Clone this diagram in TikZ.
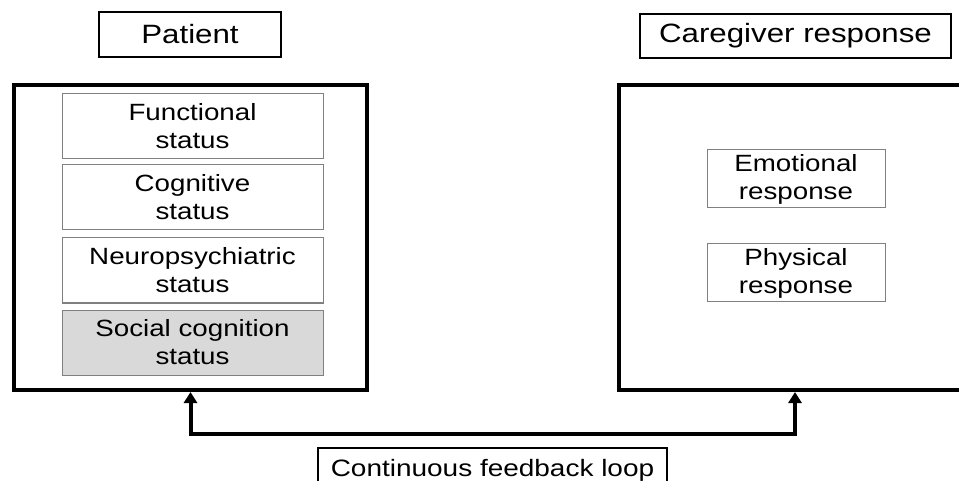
\documentclass[tikz,border=0pt]{standalone}
\usepackage{fontspec}
\setmainfont[FakeStretch=1.18]{Liberation Sans}
\usetikzlibrary{arrows.meta}
\tikzset{
  titlebox/.style={draw, line width=2pt, inner sep=0pt, font=\fontsize{26.5}{30}\selectfont},
  bigbox/.style={draw, line width=4pt, inner sep=0pt},
  itembox/.style={draw=gray, line width=1pt, inner sep=0pt, align=center, font=\fontsize{23.5}{28}\selectfont},
}
\begin{document}
\begin{tikzpicture}[x=1pt, y=-1pt]
            \clip (0, 0) rectangle (959, 481);
            %\draw[lightgray] (0, 0) grid[step=50] (959, 481);
            \node[titlebox, minimum width=182, minimum height=45] (patient) at (190, 34.5) {Patient};
            \node[titlebox, minimum width=311, minimum height=44] (carer) at (795.5, 36) {Caregiver response};
            \node[bigbox, minimum width=353, minimum height=305] (lbox) at (190.5, 237.5) {};
            \node[bigbox, minimum width=353, minimum height=305] (rbox) at (795, 237.5) {};
            \node[itembox, minimum width=261, minimum height=65] (func) at (192.5, 126.5) {Functional\\status};
            \node[itembox, minimum width=261, minimum height=65] (cogn) at (192.5, 197.5) {Cognitive\\status};
            \node[itembox, minimum width=261, minimum height=65] (neuro) at (192.5, 270.5) {Neuropsychiatric\\status};
            \node[itembox, fill={rgb,255:red,217;green,217;blue,217}, minimum width=261, minimum height=65] (social) at (192.5, 342.5) {Social cognition\\status};
            \node[itembox, minimum width=178, minimum height=58] (emot) at (796, 179) {Emotional\\response};
            \node[itembox, minimum width=178, minimum height=58] (phys) at (796, 273) {Physical\\response};
            \node[titlebox, font=\fontsize{23.7}{28}\selectfont, minimum width=349, minimum height=45] (loop) at (492.5, 470.5) {Continuous feedback loop};
            \draw[line width=4pt, {Triangle[length=11pt, width=13pt]}-{Triangle[length=11pt, width=13pt]}] (lbox.south) -- ++(0, 42) -| (rbox.south);
\end{tikzpicture}
\end{document}
